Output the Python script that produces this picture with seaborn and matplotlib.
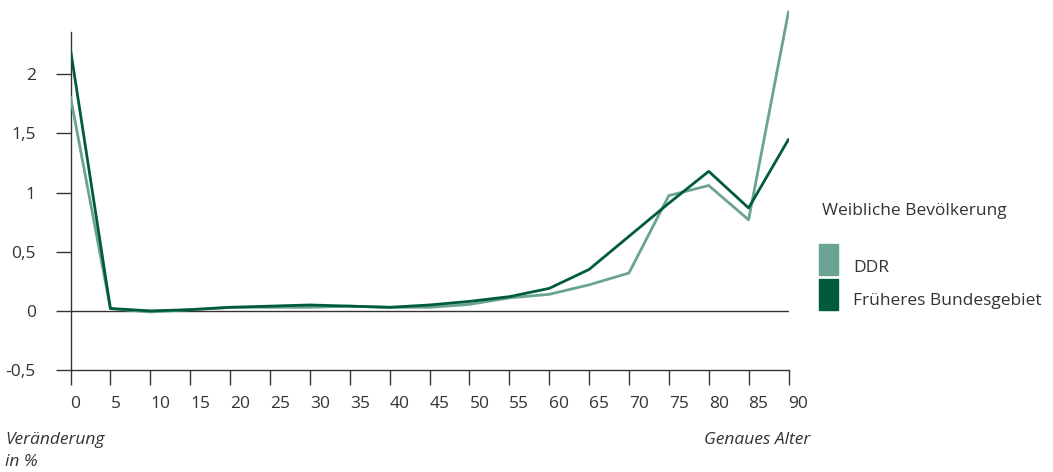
import matplotlib
matplotlib.use("Agg")
import matplotlib.pyplot as plt
import seaborn as sns
import pandas as pd
from matplotlib.patches import Rectangle

ages = [0, 5, 10, 15, 20, 25, 30, 35, 40, 45, 50, 55, 60, 65, 70, 75, 80, 85, 90]
ddr = [1.81, 0.02, -0.01, 0.01, 0.03, 0.03, 0.03, 0.04, 0.03, 0.03, 0.055, 0.11, 0.14, 0.22, 0.32, 0.975, 1.06, 0.77, 2.53]
frueher = [2.21, 0.02, 0.0, 0.01, 0.03, 0.04, 0.05, 0.04, 0.03, 0.05, 0.08, 0.12, 0.19, 0.35, 0.63, 0.91, 1.18, 0.87, 1.45]
series_names = ["DDR", "Früheres Bundesgebiet"]
yticks = [-0.5, 0, 0.5, 1, 1.5, 2]
ytick_labels = ["-0,5", "0", "0,5", "1", "1,5", "2"]
xtick_labels = [str(a) for a in ages]

colors = {"DDR": "#6aa394", "Früheres Bundesgebiet": "#005a3e"}
txt = "#333333"

sns.set_theme(style="white")
plt.rcParams["font.family"] = ["Open Sans", "DejaVu Sans"]

df = pd.DataFrame({
    "Alter": ages * 2,
    "Wert": ddr + frueher,
    "Serie": [series_names[0]] * len(ages) + [series_names[1]] * len(ages),
})

fig = plt.figure(figsize=(10.53, 4.72), dpi=100)
ax = fig.add_axes([70.5 / 1053, 102 / 472, 718 / 1053, 366.6 / 472])

ax.axhline(0, color=txt, lw=1.0, zorder=1)
sns.lineplot(data=df, x="Alter", y="Wert", hue="Serie", palette=colors,
             hue_order=series_names, lw=2.0, legend=False, ax=ax, zorder=3)

ax.set_xlim(0, 90)
ax.set_ylim(-0.5, 2.6)
for s in ["top", "right"]:
    ax.spines[s].set_visible(False)
ax.spines["left"].set_bounds(-0.5, 2.36)
for s in ["left", "bottom"]:
    ax.spines[s].set_color(txt)
    ax.spines[s].set_linewidth(1.0)

ax.set_xticks(ages)
ax.set_xticklabels(xtick_labels, ha="left")
ax.set_yticks(yticks)
ax.set_yticklabels(ytick_labels)
ax.tick_params(axis="x", direction="out", length=11, width=1.0, color=txt,
               labelcolor=txt, labelsize=12.5, pad=8, bottom=True)
ax.tick_params(axis="y", direction="out", length=11, width=1.0, color=txt,
               labelcolor=txt, labelsize=12.5, pad=14, left=True)
ax.set_xlabel("")
ax.set_ylabel("")

fig.text(5 / 1053, 1 - 440 / 472, "Veränderung", ha="left", va="center",
         fontsize=12.5, style="italic", color=txt)
fig.text(5 / 1053, 1 - 462 / 472, "in %", ha="left", va="center",
         fontsize=12.5, style="italic", color=txt)
fig.text(810 / 1053, 1 - 440 / 472, "Genaues Alter", ha="right", va="center",
         fontsize=12.5, style="italic", color=txt)

fig.text(822 / 1053, 1 - 211 / 472, "Weibliche Bevölkerung", ha="left", va="center",
         fontsize=12.5, color=txt)
fig.patches.append(Rectangle((819 / 1053, 1 - 275 / 472), 19 / 1053, 31 / 472,
                             transform=fig.transFigure, color=colors["DDR"]))
fig.patches.append(Rectangle((819 / 1053, 1 - 310 / 472), 19 / 1053, 31 / 472,
                             transform=fig.transFigure, color=colors["Früheres Bundesgebiet"]))
fig.text(853 / 1053, 1 - 268 / 472, "DDR", ha="left", va="center", fontsize=12.5, color=txt)
fig.text(853 / 1053, 1 - 301 / 472, "Früheres Bundesgebiet", ha="left", va="center",
         fontsize=12.5, color=txt)

fig.savefig("out.png", dpi=100)
